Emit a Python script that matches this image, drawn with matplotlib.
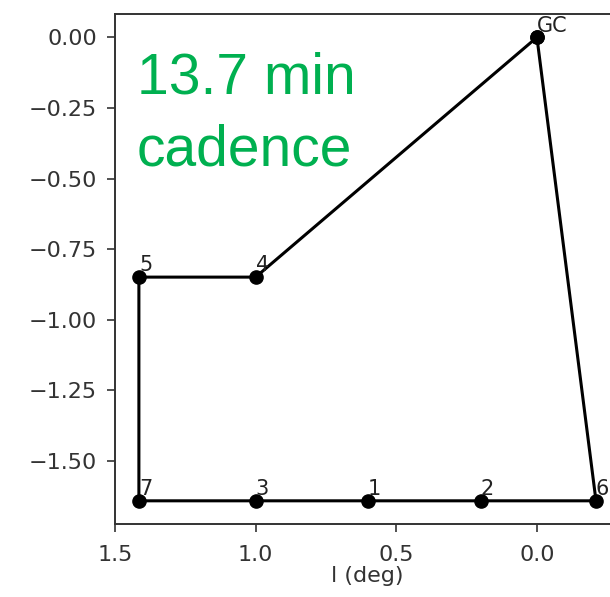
import matplotlib
matplotlib.use('Agg')
import matplotlib.pyplot as plt

# Pointing positions (galactic l, b in deg), in the order the path visits them
nomes = ["GC", "6", "2", "1", "3", "7", "5", "4"]
l_deg = [0.0, -0.21, 0.20, 0.60, 1.0, 1.415, 1.415, 1.0]
b_deg = [0.0, -1.641, -1.641, -1.641, -1.641, -1.641, -0.849, -0.849]

fig = plt.figure(figsize=(6.10, 5.97), dpi=100)
ax = fig.add_axes([0.1885, 0.1223, 0.826, 0.854])

# closed loop back to GC
ax.plot(l_deg + [l_deg[0]], b_deg + [b_deg[0]], color='black', lw=2.2,
        marker='o', markersize=9.5)
for n, x, y in zip(nomes, l_deg, b_deg):
    ax.text(x, y + 0.02, n, fontsize=15, color='#222222')

ax.invert_xaxis()
ax.set_xticks([1.5, 1.0, 0.5, 0.0])
ax.set_yticks([0.0, -0.25, -0.5, -0.75, -1.0, -1.25, -1.5])
ax.tick_params(labelsize=16, length=6, width=1.2, colors='#333333', pad=7)
ax.tick_params(axis='x', pad=9)
for s in ax.spines.values():
    s.set_linewidth(1.4)
    s.set_color('#333333')
ax.set_xlabel("l (deg)", fontsize=16, labelpad=1, color='#333333')

verde = '#00B050'
fig.text(137 / 610, 1 - 93 / 597, "13.7 min", color=verde, fontsize=41,
         family='Liberation Sans', va='baseline')
fig.text(137 / 610, 1 - 165 / 597, "cadence", color=verde, fontsize=41,
         family='Liberation Sans', va='baseline')

fig.savefig("out.png", dpi=100)
